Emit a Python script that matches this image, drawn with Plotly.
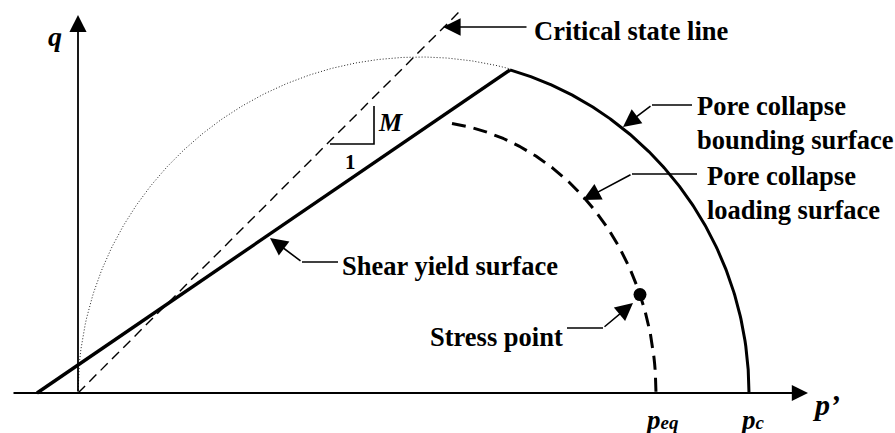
import numpy as np
import plotly.graph_objects as go

# ---------------- values (p', q in the same units) ----------------
P_AXIS = [-66, 730]          # extent of the p' axis
Q_AXIS = [0, 378]            # extent of the q axis

SHEAR_P = [-41, 432]         # shear yield surface: tension point -> corner
SHEAR_Q = [0, 323]

CSL_M = 1.0                  # critical state line slope M
CSL_P = [0, 383]

CAP_CENTER = 342             # centre of the elliptical caps on the p' axis
DOT_A, DOT_B = 342, 336      # dotted ellipse semi-axes (through the origin)
P_C, BOUND_B = 671, 336      # pore collapse bounding surface
P_EQ, LOAD_B = 578, 272      # pore collapse loading surface
P_CORNER = 432               # where the bounding surface starts
P_LOAD_START = 374           # where the loading surface starts
P_STRESS = 562               # stress point on the loading surface

FONT = "Liberation Serif"
FS = 26.5


def cap(p, a, b):
    return b * np.sqrt(np.clip(1 - ((p - CAP_CENTER) / a) ** 2, 0, None))


fig = go.Figure()

# dotted ellipse
p_dot = np.linspace(CAP_CENTER - DOT_A, P_CORNER, 300)
fig.add_trace(go.Scatter(x=p_dot, y=cap(p_dot, DOT_A, DOT_B), mode="lines",
                         line=dict(color="#222", width=1, dash="1px,2px")))

# critical state line
fig.add_trace(go.Scatter(x=CSL_P, y=[CSL_M * v for v in CSL_P], mode="lines",
                         line=dict(color="black", width=1.4, dash="10px,6px")))

# shear yield surface
fig.add_trace(go.Scatter(x=SHEAR_P, y=SHEAR_Q, mode="lines",
                         line=dict(color="black", width=3.4)))

# bounding surface
p_b = np.linspace(P_CORNER, P_C, 300)
fig.add_trace(go.Scatter(x=p_b, y=cap(p_b, P_C - CAP_CENTER, BOUND_B), mode="lines",
                         line=dict(color="black", width=3)))

# loading surface
p_l = np.linspace(P_LOAD_START, P_EQ, 300)
fig.add_trace(go.Scatter(x=p_l, y=cap(p_l, P_EQ - CAP_CENTER, LOAD_B), mode="lines",
                         line=dict(color="black", width=3, dash="14px,8px")))

# stress point
fig.add_trace(go.Scatter(x=[P_STRESS], y=[float(cap(np.array(P_STRESS), P_EQ - CAP_CENTER, LOAD_B))],
                         mode="markers", marker=dict(color="black", size=13)))

# slope triangle and leader horizontals
TRI_P = [252, 296, 296]
TRI_Q = [249, 249, 287]
fig.add_trace(go.Scatter(x=TRI_P, y=TRI_Q, mode="lines", line=dict(color="black", width=1.6)))

LEADERS = [  # (horizontal start, horizontal end, q, arrow tip p, arrow tip q)
    (614, 574, 288, 545, 266),   # bounding surface
    (619, 554, 219, 505, 193),   # loading surface
    (260, 224, 131, 192, 155),   # shear yield surface
    (489, 525, 65, 555, 90),     # stress point
]
for p0, p1, qh, pt, qt in LEADERS:
    fig.add_trace(go.Scatter(x=[p0, p1], y=[qh, qh], mode="lines",
                             line=dict(color="black", width=1.6)))
    fig.add_annotation(x=pt, y=qt, ax=p1, ay=qh, axref="x", ayref="y", xref="x", yref="y",
                       text="", showarrow=True, arrowhead=2, arrowwidth=1.6, arrowsize=2.2,
                       arrowcolor="black", standoff=0)

# critical state line label arrow
fig.add_annotation(x=365, y=366, ax=450, ay=366, axref="x", ayref="y",
                   text="", showarrow=True, arrowhead=2, arrowwidth=1.6, arrowsize=2.2,
                   arrowcolor="black", standoff=0)

# axes with arrow heads
fig.add_annotation(x=P_AXIS[1], y=0, ax=P_AXIS[0], ay=0, axref="x", ayref="y",
                   text="", showarrow=True, arrowhead=2, arrowwidth=1.8, arrowsize=1.8,
                   arrowcolor="black", standoff=0)
fig.add_annotation(x=0, y=Q_AXIS[1], ax=0, ay=Q_AXIS[0], axref="x", ayref="y",
                   text="", showarrow=True, arrowhead=2, arrowwidth=1.8, arrowsize=1.9,
                   arrowcolor="black", standoff=0)

# text labels
def label(x, y, text, xanchor="left", yanchor="middle", size=FS, italic=False):
    fig.add_annotation(x=x, y=y, text=text, showarrow=False, xanchor=xanchor, yanchor=yanchor,
                       align="left",
                       font=dict(family=FONT, size=size, color="black", weight="bold",
                                 style="italic" if italic else "normal"))

label(454, 362, "Critical state line")
label(617, 270, "Pore collapse<br>bounding surface")
label(627, 200, "Pore collapse<br>loading surface")
label(262, 127, "Shear yield surface")
label(487, 56, "Stress point", xanchor="right")
label(312, 271, "M", xanchor="center", size=26, italic=True)
label(272, 231, "1", xanchor="center", size=21)
label(-23, 357, "q", xanchor="center", size=28, italic=True)
label(732, -11, "p’", size=30, italic=True)
label(584, -10, "p<span style='font-size:19px'>eq</span>", xanchor="center", yanchor="top",
      size=27, italic=True)
label(674, -10, "p<span style='font-size:19px'>c</span>", xanchor="center", yanchor="top",
      size=27, italic=True)

fig.update_layout(
    width=895, height=433, margin=dict(l=0, r=0, t=0, b=0),
    paper_bgcolor="white", plot_bgcolor="white", showlegend=False,
    xaxis=dict(range=[-78, 817], visible=False, fixedrange=True),
    yaxis=dict(range=[-40, 393], visible=False, fixedrange=True),
)

fig.write_html(
    "out.html",
    config={"displayModeBar": False},
    post_script="document.body.style.margin='0';document.body.style.overflow='hidden';",
)
